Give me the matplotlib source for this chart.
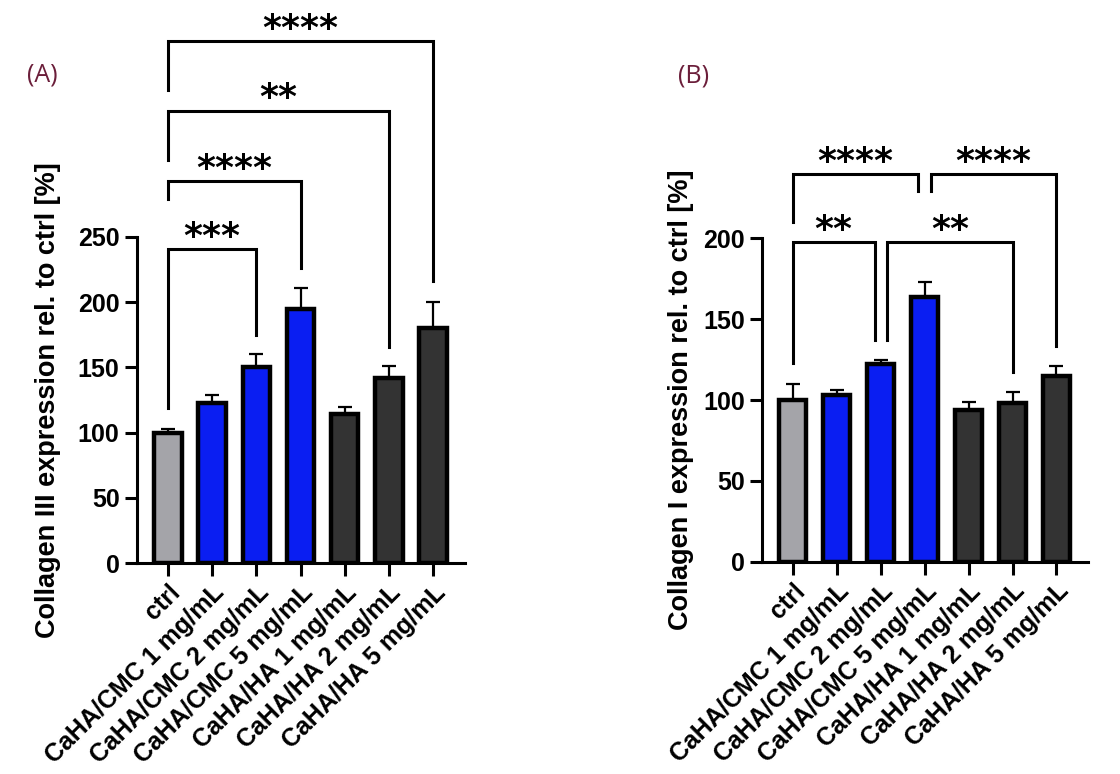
import numpy as np
import matplotlib
matplotlib.use("Agg")
import matplotlib.pyplot as plt

plt.rcParams["font.family"] = ["Liberation Sans", "DejaVu Sans"]
plt.rcParams["font.weight"] = "bold"

categories = [
    "ctrl",
    "CaHA/CMC 1 mg/mL",
    "CaHA/CMC 2 mg/mL",
    "CaHA/CMC 5 mg/mL",
    "CaHA/HA 1 mg/mL",
    "CaHA/HA 2 mg/mL",
    "CaHA/HA 5 mg/mL",
]
bar_colors = ["#a4a4a9", "#0a1ef2", "#0a1ef2", "#0a1ef2", "#333333", "#333333", "#333333"]

# Collagen III (panel A)
col3_mean = [100, 123, 150, 195, 114, 142, 180]
col3_err = [3, 6, 10, 16, 6, 9, 20]
# Collagen I (panel B)
col1_mean = [100, 103, 122, 164, 94, 98, 115]
col1_err = [10, 3, 3, 9, 5, 7, 6]

# significance brackets: (x left, x right, y bar, y left end, y right end, label)
col3_sig = [
    (0, 2, 241, 119, 175, "***"),
    (0, 3, 293, 279, 226, "****"),
    (0, 5, 347, 309, 166, "**"),
    (0, 6, 400, 363, 216, "****"),
]
col1_sig = [
    (0, 1.86, 197.5, 123, 137, "**"),
    (2.15, 5, 197.5, 137, 117.5, "**"),
    (0, 2.86, 240, 210, 229, "****"),
    (3.14, 6, 240, 229, 133.5, "****"),
]


def draw_panel(ax, means, errs, sig, ymax, ylabel, label_x):
    x = np.arange(len(categories))
    ax.bar(x, means, width=0.62, color=bar_colors, edgecolor="black", linewidth=3.2, zorder=2)
    ax.errorbar(x, means, yerr=[np.zeros(len(errs)), errs], fmt="none", ecolor="black",
                elinewidth=1.6, capsize=5, capthick=1.6, zorder=1)
    ax.set_xlim(-0.7, 6.72)
    ax.set_ylim(0, ymax)
    ax.spines["top"].set_visible(False)
    ax.spines["right"].set_visible(False)
    ax.spines["left"].set_linewidth(2.2)
    ax.spines["bottom"].set_linewidth(2.2)
    ax.tick_params(width=2.2, length=9, labelsize=18)
    ax.set_xticks(x)
    ax.set_xticklabels(categories, rotation=45, ha="right", va="top",
                       rotation_mode="anchor", fontsize=18)
    ax.set_ylabel(ylabel, fontsize=19.5, fontweight="bold", va="center")
    ax.yaxis.set_label_coords(label_x, 0.5)
    for x1, x2, yb, yl, yr, lab in sig:
        ax.plot([x1, x1, x2, x2], [yl, yb, yb, yr], color="black", lw=2.2,
                clip_on=False, solid_joinstyle="miter")
        ax.annotate(lab, ((x1 + x2) / 2, yb), xytext=(0, 1.5), textcoords="offset points",
                    ha="center", va="baseline", fontsize=26, fontweight="bold",
                    family="DejaVu Sans", annotation_clip=False)


fig = plt.figure(figsize=(11.2, 7.74), dpi=100)
ax_a = fig.add_axes([0.1223, 0.2726, 0.2929, 0.4212])
ax_b = fig.add_axes([0.6804, 0.2743, 0.2911, 0.4178])

draw_panel(ax_a, col3_mean, col3_err, col3_sig, 250,
           "Collagen III expression rel. to ctrl [%]", -0.271)
ax_a.set_yticks([0, 50, 100, 150, 200, 250])
draw_panel(ax_b, col1_mean, col1_err, col1_sig, 200,
           "Collagen I expression rel. to ctrl [%]", -0.248)
ax_b.set_yticks([0, 50, 100, 150, 200])

fig.text(42 / 1120, 1 - 75 / 774, "(A)", color="#6b1e3a", fontsize=18,
         family="Open Sans", fontweight="normal", ha="center", va="center")
fig.text(694 / 1120, 1 - 76 / 774, "(B)", color="#6b1e3a", fontsize=18,
         family="Open Sans", fontweight="normal", ha="center", va="center")

fig.savefig("out.png", dpi=100, facecolor="white")
